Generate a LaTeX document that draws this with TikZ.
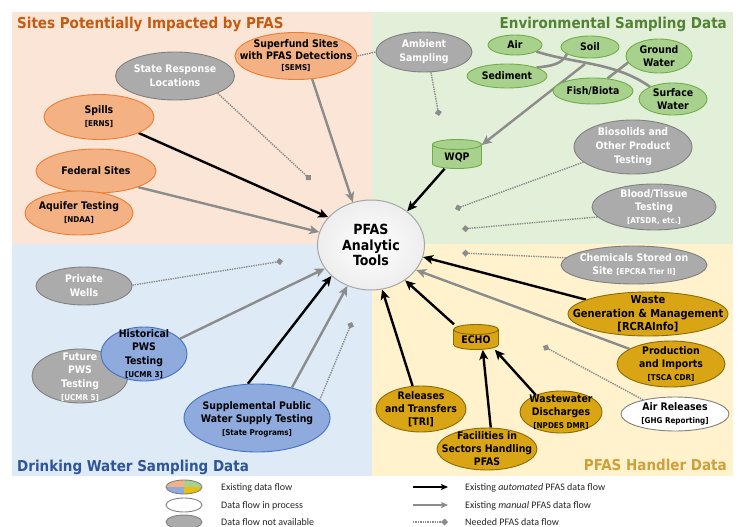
\documentclass[tikz,border=0pt]{standalone}
\usepackage{fontspec}
\setmainfont{DejaVu Sans}
\newfontfamily\condfont{DejaVu Sans Condensed}
\newfontfamily\legfont{Carlito}
\usetikzlibrary{shapes.geometric,arrows.meta}
\pgfdeclarelayer{bgl}
\pgfdeclarelayer{lines}
\pgfsetlayers{bgl,lines,main}
\definecolor{bgO}{HTML}{FBE5D6}
\definecolor{bgG}{HTML}{E2F0D9}
\definecolor{bgB}{HTML}{DEEBF7}
\definecolor{bgY}{HTML}{FFF2CC}
\definecolor{orF}{HTML}{F4B183}
\definecolor{orD}{HTML}{ED7D31}
\definecolor{grF}{HTML}{A9D18E}
\definecolor{grD}{HTML}{70AD47}
\definecolor{blF}{HTML}{8FAADC}
\definecolor{blD}{HTML}{4472C4}
\definecolor{ylF}{HTML}{DAA514}
\definecolor{ylD}{HTML}{8A6A08}
\definecolor{gyF}{HTML}{ABABAB}
\definecolor{gyD}{HTML}{808080}
\definecolor{arrG}{HTML}{8C8C8C}
\definecolor{tO}{HTML}{C55A11}
\definecolor{tG}{HTML}{548235}
\definecolor{tB}{HTML}{2F5597}
\definecolor{tY}{HTML}{CF9F3A}
\newcommand\brk[1]{{\fontsize{8}{9}\selectfont #1}}
\newcommand\mycyl[7]{%
  \node[minimum width=#4, minimum height=#5, inner sep=0pt] (#1) at (#2,#3) {};
  \draw[draw=#7, fill=#6, line width=0.9pt] (#2,{#3+#5/2-5}) ellipse [x radius={#4/2}, y radius=5];
  \fill[#6] ({#2-#4/2},{#3-#5/2+5}) rectangle ({#2+#4/2},{#3+#5/2-5});
  \draw[#7, line width=0.9pt] ({#2-#4/2},{#3-#5/2+5}) -- ({#2-#4/2},{#3+#5/2-5})
        ({#2+#4/2},{#3-#5/2+5}) -- ({#2+#4/2},{#3+#5/2-5});
  \draw[draw=#7, fill=#6, line width=0.9pt] (#2,{#3-#5/2+5}) ellipse [x radius={#4/2}, y radius=5];
}
\begin{document}
\begin{tikzpicture}[x=1pt,y=-1pt,
  ell/.style={ellipse, line width=0.9pt, inner sep=0pt},
  onode/.style={ell, fill=orF, draw=orD},
  gnode/.style={ell, fill=grF, draw=grD},
  bnode/.style={ell, fill=blF, draw=blD},
  ynode/.style={ell, fill=ylF, draw=ylD},
  xnode/.style={ell, fill=gyF, draw=gyD},
  wnode/.style={ell, fill=white, draw=gyD},
  txt/.style={align=center, inner sep=0pt, text=black, font=\condfont\bfseries\fontsize{10.4}{13}\selectfont},
  txtt/.style={txt, font=\condfont\bfseries\fontsize{10.4}{11.5}\selectfont},
  wtxt/.style={txt, text=white},
  autoA/.style={line width=2.4pt, draw=black, -{Stealth[length=10pt,width=9pt,inset=2.5pt]}},
  manA/.style={line width=2.4pt, draw=arrG, -{Stealth[length=10pt,width=9pt,inset=2.5pt]}},
  needA/.style={line width=1.4pt, draw=arrG, densely dotted, -{Diamond[length=7pt,width=7pt]}},
  needL/.style={line width=1.4pt, draw=arrG, densely dotted},
  envL/.style={line width=2.6pt, draw=arrG},
  ttl/.style={inner sep=0pt, font=\condfont\bfseries\fontsize{15}{18}\selectfont},
  leg/.style={inner sep=0pt, anchor=base west, text=black!85, font=\legfont\fontsize{10}{12}\selectfont}
]
\useasboundingbox (0,0) rectangle (745,527);
\begin{pgfonlayer}{bgl}
\fill[white] (0,0) rectangle (745,527);
\fill[bgO] (12,12) rectangle (372,244);
\fill[bgG] (372,12) rectangle (733,244);
\fill[bgB] (12,244) rectangle (372,476);
\fill[bgY] (372,244) rectangle (733,476);
\end{pgfonlayer}

% titles
\node[ttl, text=tO, anchor=base west] (t1) at (17,29) {Sites Potentially Impacted by PFAS};
\node[ttl, text=tG, anchor=base east] (t2) at (727,29) {Environmental Sampling Data};
\node[ttl, text=tB, anchor=base west] (t3) at (17,471) {Drinking Water Sampling Data};
\node[ttl, text=tY, anchor=base east] (t4) at (727,470) {PFAS Handler Data};

% centre
\node[ellipse, draw=gray!70, line width=1pt, inner color=white, outer color=gray!14,
      minimum width=107, minimum height=90] (tools) at (371,245) {};
\node[txt, font=\condfont\bfseries\fontsize{14}{15.5}\selectfont] at (tools) {PFAS\\Analytic\\Tools};

% sites potentially impacted
\node[onode, minimum width=122, minimum height=47] (superfund) at (296,56) {};
\node[txtt] at (superfund) {Superfund Sites\\with PFAS Detections\\\brk{[SEMS]}};
\node[xnode, minimum width=119, minimum height=48] (state) at (175,76) {};
\node[wtxt, font=\condfont\bfseries\fontsize{10.4}{14}\selectfont] at (state) {State Response\\Locations};
\node[onode, minimum width=110, minimum height=45] (spills) at (99,117) {};
\node[txt] at (spills) {Spills\\\brk{[ERNS]}};
\node[onode, minimum width=120, minimum height=44] (federal) at (96,171) {};
\node[txt] at (federal) {Federal Sites};
\node[onode, minimum width=108, minimum height=44] (aquifer) at (79,213) {};
\node[txt] at (aquifer) {Aquifer Testing\\\brk{[NDAA]}};

% environmental sampling
\node[xnode, minimum width=96, minimum height=40] (ambient) at (424,52) {};
\node[wtxt, font=\condfont\bfseries\fontsize{10.4}{14}\selectfont] at (ambient) {Ambient\\Sampling};
\node[gnode, minimum width=54, minimum height=20] (air) at (515,45) {};
\node[txt] at (air) {Air};
\node[gnode, minimum width=58, minimum height=22] (soil) at (590,47) {};
\node[txt] at (soil) {Soil};
\node[gnode, minimum width=66, minimum height=34] (ground) at (659,56) {};
\node[txt] at (ground) {Ground\\Water};
\node[gnode, minimum width=80, minimum height=24] (sediment) at (507,76) {};
\node[txt] at (sediment) {Sediment};
\node[gnode, minimum width=80, minimum height=26] (fish) at (593,91) {};
\node[txt] at (fish) {Fish/Biota};
\node[gnode, minimum width=68, minimum height=32] (surface) at (673,99) {};
\node[txt] at (surface) {Surface\\Water};
\mycyl{wqp}{457}{154}{49}{29}{grF}{grD}
\node[txt] at (457,157) {WQP};
\node[xnode, minimum width=118, minimum height=54] (bio) at (633,147) {};
\node[wtxt, font=\condfont\bfseries\fontsize{10.4}{14}\selectfont] at (bio) {Biosolids and\\Other Product\\Testing};
\node[xnode, minimum width=124, minimum height=46] (blood) at (654,207) {};
\node[wtxt] at (blood) {Blood/Tissue\\Testing\\\brk{[ATSDR, etc.]}};

% PFAS handler data
\node[xnode, minimum width=146, minimum height=38] (chem) at (634,265) {};
\node[wtxt] at (chem) {Chemicals Stored on\\Site \brk{[EPCRA Tier II]}};
\node[ynode, minimum width=160, minimum height=44] (waste) at (648,314) {};
\node[txt, font=\condfont\bfseries\fontsize{11}{13.5}\selectfont] at (waste) {Waste\\Generation \& Management\\{[RCRAInfo]}};
\node[ynode, minimum width=108, minimum height=46] (prod) at (671,364) {};
\node[txt] at (prod) {Production\\and Imports\\\brk{[TSCA CDR]}};
\node[wnode, minimum width=108, minimum height=34] (airrel) at (675,414) {};
\node[txt] at (airrel) {Air Releases\\\brk{[GHG Reporting]}};
\mycyl{echo}{476}{337}{45}{25}{ylF}{ylD}
\node[txt] at (476,340) {ECHO};
\node[ynode, minimum width=90, minimum height=46] (tri) at (421,409) {};
\node[txt] at (tri) {Releases\\and Transfers\\{[TRI]}};
\node[ynode, minimum width=100, minimum height=42] (facil) at (487,449) {};
\node[txt] at (facil) {Facilities in\\Sectors Handling\\PFAS};
\node[ynode, minimum width=82, minimum height=42] (wastew) at (561,412) {};
\node[txt] at (wastew) {Wastewater\\Discharges\\\brk{[NPDES DMR]}};

% drinking water
\node[xnode, minimum width=96, minimum height=38] (priv) at (84,286) {};
\node[wtxt, font=\condfont\bfseries\fontsize{10.4}{14}\selectfont] at (priv) {Private\\Wells};
\node[xnode, minimum width=96, minimum height=54] (future) at (80,376) {};
\node[wtxt, font=\condfont\bfseries\fontsize{10.4}{13.5}\selectfont] at (80,377) {Future\\PWS\\Testing\\\brk{[UCMR 5]}};
\node[bnode, minimum width=86, minimum height=54] (hist) at (144,354) {};
\node[txt, font=\condfont\bfseries\fontsize{10.4}{13.5}\selectfont] at (hist) {Historical\\PWS\\Testing\\\brk{[UCMR 3]}};
\node[bnode, minimum width=146, minimum height=68] (supp) at (257,418) {};
\node[txt] at (257,419) {Supplemental Public\\Water Supply Testing\\\brk{[State Programs]}};

% marker ends
\coordinate (mState) at (311,180);
\coordinate (mAmb) at (439,116);
\coordinate (mBio) at (455,209);
\coordinate (mBlood) at (462,229);
\coordinate (mChem) at (462,253);
\coordinate (mAir) at (543,346);
\coordinate (mPriv) at (283,261);
\coordinate (mSupp) at (352,322);
\coordinate (bus) at (585,64);

\begin{pgfonlayer}{lines}
\draw[autoA] (spills.-22) -- (tools.147);
\draw[manA] (federal.-21) -- (tools.166);
\draw[manA] (superfund.-55) -- (tools.113);
\draw[needA] (state.-22) -- (mState);
\draw[needL] (superfund.east) -- (ambient.west);
\draw[needA] (ambient.-71) -- (mAmb);
\draw[envL] (air.-17) .. controls (575,64) and (615,62) .. (surface.152);
\draw[envL] (soil.197) .. controls (562,64) and (552,66) .. (sediment.16);
\draw[envL] (ground.192) -- (fish.41);
\draw[manA] (bus) -- (wqp.20);
\draw[autoA] (wqp.-130) -- (tools.43);
\draw[needA] (bio.197) -- (mBio);
\draw[needA] (blood.190) -- (mBlood);
\draw[needA] (chem.174) -- (mChem);
\draw[autoA] (waste.167) -- (tools.-13);
\draw[manA] (prod.160) -- (tools.-29);
\draw[autoA] (echo.150) -- (tools.-46);
\draw[autoA] (tri.110) -- (tools.-76);
\draw[autoA] (facil.80) -- (echo.-62);
\draw[autoA] (wastew.146) -- (echo.-34);
\draw[needA] (airrel.156) -- (mAir);
\draw[needA] (priv.1) -- (mPriv);
\draw[manA] (hist.23) -- (tools.207);
\draw[autoA] (supp.105) -- (tools.218);
\draw[manA] (supp.41) -- (tools.240);
\draw[needA] (supp.16) -- (mSupp);
\end{pgfonlayer}

% legend
\node[ell, draw=gyD, minimum width=36, minimum height=14,
  path picture={
    \fill[orF] (path picture bounding box.north west) rectangle (path picture bounding box.center);
    \fill[grF] (path picture bounding box.north east) rectangle (path picture bounding box.center);
    \fill[blF] (path picture bounding box.south west) rectangle (path picture bounding box.center);
    \fill[ylF!70!yellow] (path picture bounding box.south east) rectangle (path picture bounding box.center);
  }] (lg1) at (184,487) {};
\node[wnode, minimum width=36, minimum height=14] (lg2) at (184,505) {};
\node[xnode, minimum width=36, minimum height=14] (lg3) at (184,522) {};
\node[leg] (lt1) at (221,490.5) {Existing data flow};
\node[leg] (lt2) at (221,508.5) {Data flow in process};
\node[leg] (lt3) at (221,525.5) {Data flow not available};
\coordinate (la1) at (413,487); \coordinate (lb1) at (448,487);
\coordinate (la2) at (413,505); \coordinate (lb2) at (448,505);
\coordinate (la3) at (413,522); \coordinate (lb3) at (448,522);
\draw[line width=2pt, draw=black, -{Stealth[length=7pt,width=6pt,inset=1.5pt]}] (la1) -- (lb1);
\draw[line width=2pt, draw=arrG, -{Stealth[length=7pt,width=6pt,inset=1.5pt]}] (la2) -- (lb2);
\draw[needA] (la3) -- (lb3);
\node[leg] (lt4) at (465,490.5) {Existing \textit{automated} PFAS data flow};
\node[leg] (lt5) at (465,508.5) {Existing \textit{manual} PFAS data flow};
\node[leg] (lt6) at (465,525.5) {Needed PFAS data flow};
\end{tikzpicture}
\end{document}
